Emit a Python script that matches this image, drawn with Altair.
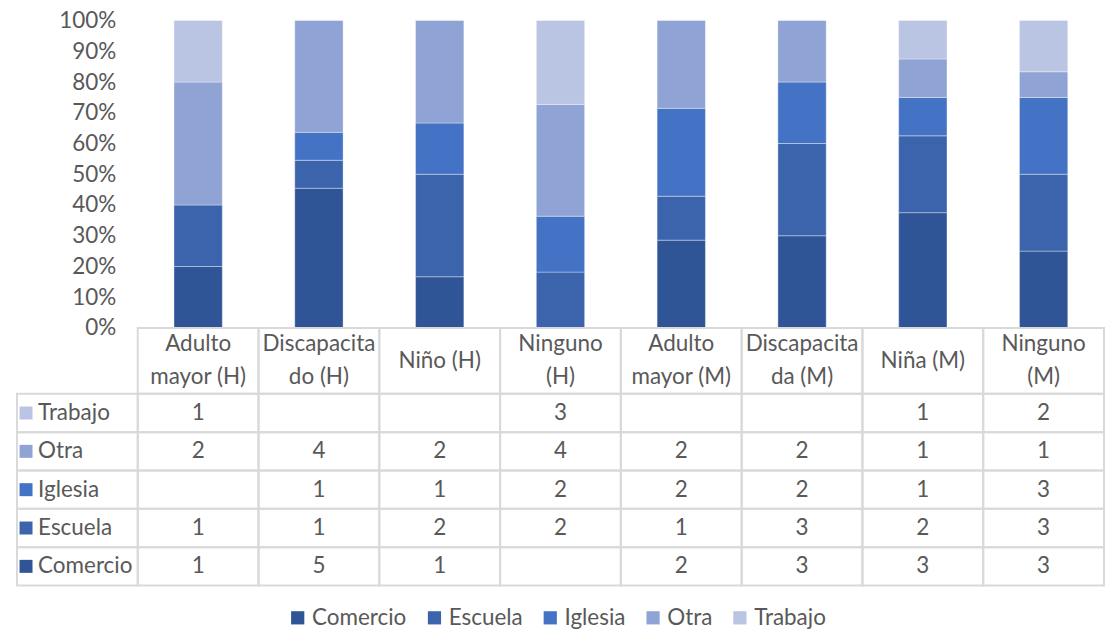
import altair as alt
import pandas as pd

# ---------------- data ----------------
categories = ["Adulto mayor (H)", "Discapacitado (H)", "Niño (H)", "Ninguno (H)",
              "Adulto mayor (M)", "Discapacitada (M)", "Niña (M)", "Ninguno (M)"]
# header text as printed in the table (wrapped lines)
header_lines = [["Adulto", "mayor (H)"], ["Discapacita", "do (H)"], ["Niño (H)"],
                ["Ninguno", "(H)"], ["Adulto", "mayor (M)"], ["Discapacita", "da (M)"],
                ["Niña (M)"], ["Ninguno", "(M)"]]
series = ["Comercio", "Escuela", "Iglesia", "Otra", "Trabajo"]
colors = ["#2F5597", "#3B64AD", "#4472C4", "#8FA3D4", "#BAC4E3"]

comercio = [1, 5, 1, None, 2, 3, 3, 3]
escuela = [1, 1, 2, 2, 1, 3, 2, 3]
iglesia = [None, 1, 1, 2, 2, 2, 1, 3]
otra = [2, 4, 2, 4, 2, 2, 1, 1]
trabajo = [1, None, None, 3, None, None, 1, 2]

pct_ticks = [0, 0.1, 0.2, 0.3, 0.4, 0.5, 0.6, 0.7, 0.8, 0.9, 1.0]

values = {"Comercio": comercio, "Escuela": escuela, "Iglesia": iglesia,
          "Otra": otra, "Trabajo": trabajo}
row_order = ["Trabajo", "Otra", "Iglesia", "Escuela", "Comercio"]
LABEL_COL = "_serie"
x_domain = [LABEL_COL] + categories

bar_rows, cell_rows = [], []
for si, s in enumerate(series):
    for c, v in zip(categories, values[s]):
        if v is not None:
            bar_rows.append({"col": c, "series": s, "value": v, "rank": si})
        cell_rows.append({"col": c, "series": s, "text": "" if v is None else str(v)})
bar_df = pd.DataFrame(bar_rows)
cell_df = pd.DataFrame(cell_rows)
border_df = pd.DataFrame([{"col": c, "series": s} for c in x_domain for s in series])
label_df = pd.DataFrame({"col": [LABEL_COL] * len(series), "series": series})

hdr_rows = []
for c, lines in zip(categories, header_lines):
    slots = ["m"] if len(lines) == 1 else ["a", "b"]
    for slot, t in zip(slots, lines):
        hdr_rows.append({"col": c, "slot": slot, "text": t})
hdr_line_df = pd.DataFrame(hdr_rows)
hdr_df = pd.DataFrame({"col": categories})

# ---------------- style ----------------
FONT = "Lato"
TXT = "#595959"
GRID = "#D9D9D9"
FS = 22.5
W = 1089

xsc = alt.Scale(domain=x_domain, paddingInner=0, paddingOuter=0)
csc = alt.Scale(domain=series, range=colors)
ysc_rows = alt.Scale(domain=row_order, paddingInner=0, paddingOuter=0)
ysc_hdr = alt.Scale(type="point", domain=["a", "m", "b"], padding=1.276)

# ---------------- bars ----------------
bars = alt.Chart(bar_df).mark_bar(
    width=alt.RelativeBandSize(0.4), stroke="#FFFFFF", strokeWidth=0.6, strokeOpacity=0.6
).encode(
    x=alt.X("col:N", scale=xsc, axis=None),
    y=alt.Y("value:Q", stack="normalize", scale=alt.Scale(domain=[0, 1]),
            axis=alt.Axis(format=".0%", values=pct_ticks, ticks=False, domain=False,
                          grid=False, labelFontSize=FS, labelFont=FONT, labelColor=TXT,
                          labelPadding=0, offset=-99, title=None)),
    color=alt.Color("series:N", scale=csc, sort=series,
                    legend=alt.Legend(orient="none", legendX=270, legendY=587,
                                      direction="horizontal", title=None,
                                      symbolType="square", symbolSize=175,
                                      symbolStrokeWidth=0, labelFontSize=FS,
                                      labelFont=FONT, labelColor=TXT,
                                      columnPadding=16, labelOffset=3)),
    order=alt.Order("rank:Q"),
).properties(width=W, height=308)

# ---------------- header row ----------------
hdr_rect = alt.Chart(hdr_df).mark_rect(fillOpacity=0, stroke=GRID, strokeWidth=2).encode(
    x=alt.X("col:N", scale=xsc, axis=None)
)
hdr_text = alt.Chart(hdr_line_df).mark_text(
    font=FONT, fontSize=FS, color=TXT, baseline="middle"
).encode(
    x=alt.X("col:N", scale=xsc, axis=None),
    y=alt.Y("slot:N", scale=ysc_hdr, axis=None),
    text="text:N",
)
header = alt.layer(hdr_rect, hdr_text).properties(width=W, height=66)

# ---------------- data rows ----------------
cell_rect = alt.Chart(border_df).mark_rect(fillOpacity=0, stroke=GRID, strokeWidth=2).encode(
    x=alt.X("col:N", scale=xsc, axis=None),
    y=alt.Y("series:N", scale=ysc_rows, axis=None),
)
cell_text = alt.Chart(cell_df).mark_text(font=FONT, fontSize=FS, color=TXT).encode(
    x=alt.X("col:N", scale=xsc, axis=None),
    y=alt.Y("series:N", scale=ysc_rows, axis=None),
    text="text:N",
)
swatch = alt.Chart(label_df).mark_square(size=169, opacity=1).encode(
    x=alt.X("col:N", scale=xsc, axis=None, bandPosition=0.075),
    y=alt.Y("series:N", scale=ysc_rows, axis=None),
    color=alt.Color("series:N", scale=csc, legend=None),
)
row_label = alt.Chart(label_df).mark_text(
    font=FONT, fontSize=FS, color=TXT, align="left"
).encode(
    x=alt.X("col:N", scale=xsc, axis=None, bandPosition=0.175),
    y=alt.Y("series:N", scale=ysc_rows, axis=None),
    text="series:N",
)
rows = alt.layer(cell_rect, cell_text, swatch, row_label).properties(width=W, height=192)

chart = alt.vconcat(bars, header, rows, spacing=0, bounds="flush").properties(
    padding={"left": 16, "top": 9, "right": 0, "bottom": 0}
).configure_view(strokeWidth=0)

chart.save("out.html", embed_options={"renderer": "svg", "actions": False})
